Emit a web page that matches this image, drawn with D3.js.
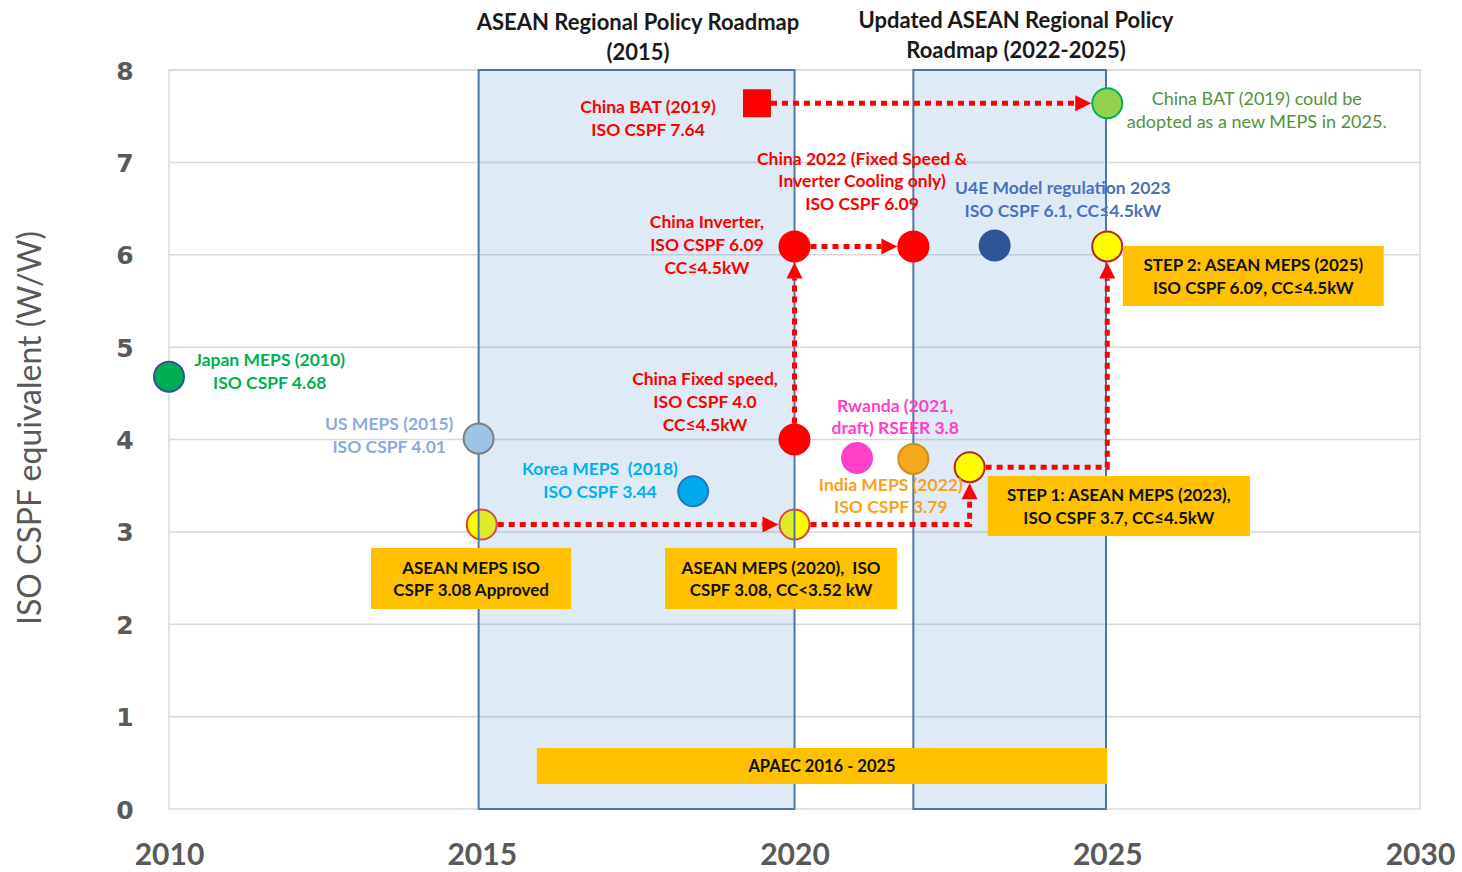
<!DOCTYPE html>
<html>
<head>
<meta charset="utf-8">
<script src="https://cdn.jsdelivr.net/npm/d3@7/dist/d3.min.js"></script>
<style>
  html, body { margin: 0; padding: 0; background: #ffffff; }
  svg { display: block; }
  text { font-family: Lato, "Open Sans", sans-serif; white-space: pre; }
</style>
</head>
<body>
<svg id="chart" width="1462" height="872"></svg>
<script>
// ---- Data -------------------------------------------------------------
// Policy milestones (year, ISO CSPF in W/W)
const pointNames  = ["Japan MEPS", "US MEPS", "Korea MEPS", "China Fixed speed", "China Inverter",
                     "China 2022", "U4E Model", "China BAT", "China BAT 2025", "Rwanda", "India MEPS",
                     "ASEAN 2015", "ASEAN 2020", "ASEAN Step 1", "ASEAN Step 2"];
const pointYears  = [2010, 2014.95, 2018.38, 2020, 2020, 2021.9, 2023.2, 2019.4, 2025, 2021, 2021.9,
                     2015, 2020, 2022.8, 2025];
const pointValues = [4.68, 4.01, 3.44, 4.0, 6.09, 6.09, 6.1, 7.64, 7.64, 3.8, 3.79,
                     3.08, 3.08, 3.7, 6.09];

// Roadmap periods (start year, end year)
const roadmapNames  = ["ASEAN Regional Policy Roadmap (2015)", "Updated ASEAN Regional Policy Roadmap (2022-2025)"];
const roadmapStarts = [2014.95, 2021.9];
const roadmapEnds   = [2020, 2024.98];

// APAEC period
const apaecLabel = "APAEC 2016 - 2025";
const apaecStart = 2015.88, apaecEnd = 2025;

// Progression links between milestones (by name)
const linkPaths = [
  ["ASEAN 2015", "ASEAN 2020"],
  ["ASEAN 2020", "corner:2022.8,3.08", "ASEAN Step 1"],
  ["ASEAN Step 1", "corner:2025,3.7", "ASEAN Step 2"],
  ["China Fixed speed", "China Inverter"],
  ["China Inverter", "China 2022"],
  ["China BAT", "China BAT 2025"]
];

// Axis ticks
const xTickLabels = ["2010", "2015", "2020", "2025", "2030"];
const yTickLabels = ["0", "1", "2", "3", "4", "5", "6", "7", "8"];
const yAxisTitle = "ISO CSPF equivalent (W/W)";

// ---- Styles -----------------------------------------------------------
const pointStyle = {
  "Japan MEPS":        { fill: "#00b050", stroke: "#2f5597", shape: "circle" },
  "US MEPS":           { fill: "#9dc3e6", stroke: "#7f7f7f", shape: "circle" },
  "Korea MEPS":        { fill: "#00a8ec", stroke: "#2e75b6", shape: "circle" },
  "China Fixed speed": { fill: "#ff0000", stroke: "#ff0000", shape: "circle" },
  "China Inverter":    { fill: "#ff0000", stroke: "#ff0000", shape: "circle" },
  "China 2022":        { fill: "#ff0000", stroke: "#ff0000", shape: "circle" },
  "U4E Model":         { fill: "#2f5597", stroke: "#2f5597", shape: "circle" },
  "China BAT":         { fill: "#ff0000", stroke: "#ff0000", shape: "square" },
  "China BAT 2025":    { fill: "#92d050", stroke: "#00b050", shape: "circle" },
  "Rwanda":            { fill: "#ff40c8", stroke: "#ff40c8", shape: "circle" },
  "India MEPS":        { fill: "#f5a81c", stroke: "#c99020", shape: "circle" },
  "ASEAN 2015":        { fill: "#ffff00", stroke: "#ee3a2a", shape: "circle", under: true },
  "ASEAN 2020":        { fill: "#ffff00", stroke: "#ee3a2a", shape: "circle", under: true },
  "ASEAN Step 1":      { fill: "#ffff00", stroke: "#c0201a", shape: "circle" },
  "ASEAN Step 2":      { fill: "#ffff00", stroke: "#c0201a", shape: "circle" }
};

// Text annotations: anchor = centre of first line in data coordinates
const notes = [
  { lines: ["Japan MEPS (2010)", "ISO CSPF 4.68"], x: 2011.61, y: 4.861, color: "#00b050", weight: 700, size: 17.5 },
  { lines: ["US MEPS (2015)", "ISO CSPF 4.01"], x: 2013.52, y: 4.168, color: "#8eaadb", weight: 700, size: 17.5 },
  { lines: ["Korea MEPS  (2018)", "ISO CSPF 3.44"], x: 2016.89, y: 3.681, color: "#00b0f0", weight: 700, size: 17.5 },
  { lines: ["China Fixed speed,", "ISO CSPF 4.0", "CC≤4.5kW"], x: 2018.57, y: 4.655, color: "#ff0000", weight: 700, size: 17.5 },
  { lines: ["China Inverter,", "ISO CSPF 6.09", "CC≤4.5kW"], x: 2018.60, y: 6.355, color: "#ff0000", weight: 700, size: 17.5 },
  { lines: ["China 2022 (Fixed Speed &", "Inverter Cooling only)", "ISO CSPF 6.09"], x: 2021.08, y: 7.047, color: "#ff0000", weight: 700, size: 17.5 },
  { lines: ["China BAT (2019)", "ISO CSPF 7.64"], x: 2017.66, y: 7.600, color: "#ff0000", weight: 700, size: 17.5 },
  { lines: ["China BAT (2019) could be", "adopted as a new MEPS in 2025."], x: 2027.39, y: 7.697, color: "#56903f", weight: 400, size: 18 },
  { lines: ["U4E Model regulation 2023", "ISO CSPF 6.1, CC≤4.5kW"], x: 2024.29, y: 6.723, color: "#4a72b8", weight: 700, size: 17.5 },
  { lines: ["Rwanda (2021,", "draft) RSEER 3.8"], x: 2021.61, y: 4.373, color: "#ff40c8", weight: 700, size: 17.5 },
  { lines: ["India MEPS (2022)", "ISO CSPF 3.79"], x: 2021.54, y: 3.518, color: "#f7a21b", weight: 700, size: 17.5 }
];

// Highlighted ASEAN boxes: [x0, x1] years, [y0, y1] values
const calloutBoxes = [
  { lines: ["ASEAN MEPS ISO", "CSPF 3.08 Approved"], x0: 2013.23, x1: 2016.43, y0: 2.826, y1: 2.165 },
  { lines: ["ASEAN MEPS (2020),  ISO", "CSPF 3.08, CC<3.52 kW"], x0: 2017.93, x1: 2021.64, y0: 2.826, y1: 2.165 },
  { lines: ["STEP 1: ASEAN MEPS (2023),", "ISO CSPF 3.7, CC≤4.5kW"], x0: 2023.09, x1: 2027.28, y0: 3.605, y1: 2.955 },
  { lines: ["STEP 2: ASEAN MEPS (2025)", "ISO CSPF 6.09, CC≤4.5kW"], x0: 2025.25, x1: 2029.42, y0: 6.095, y1: 5.445 }
];

// ---- Layout -----------------------------------------------------------
const svg = d3.select("#chart");
const plot = { left: 169, right: 1420, top: 70, bottom: 809 };

const x = d3.scaleLinear().domain([2010, 2030]).range([plot.left, plot.right]);
const y = d3.scaleLinear().domain([0, 8]).range([plot.bottom, plot.top]);

const RADIUS = 15;
const SQUARE = 28;
const LINE_GAP = 22.8;
const red = "#ff0000";

// Gridlines and plot frame
svg.append("g").selectAll("line")
  .data(yTickLabels.map(Number).filter(v => v > 0))
  .join("line")
  .attr("x1", plot.left).attr("x2", plot.right)
  .attr("y1", d => y(d)).attr("y2", d => y(d))
  .attr("stroke", "#d9d9d9").attr("stroke-width", 1.5);
svg.append("rect")
  .attr("x", plot.left).attr("y", plot.top)
  .attr("width", plot.right - plot.left).attr("height", plot.bottom - plot.top)
  .attr("fill", "none").attr("stroke", "#d9d9d9").attr("stroke-width", 1.5);

// Axes
const yAxis = d3.axisLeft(y).tickValues(yTickLabels.map(Number)).tickFormat((d, i) => yTickLabels[i]).tickSize(0).tickPadding(0);
svg.append("g")
  .attr("transform", `translate(${125},0)`)
  .call(yAxis)
  .call(g => g.select(".domain").remove())
  .selectAll("text")
  .attr("text-anchor", "middle")
  .attr("dy", "0.36em")
  .style("font-family", "'DejaVu Sans', sans-serif")
  .style("font-weight", 700)
  .style("font-size", "25px")
  .attr("fill", "#595959");

const xAxis = d3.axisBottom(x).tickValues(xTickLabels.map(Number)).tickFormat((d, i) => xTickLabels[i]).tickSize(0).tickPadding(0);
svg.append("g")
  .attr("transform", `translate(0,${854})`)
  .call(xAxis)
  .call(g => g.select(".domain").remove())
  .selectAll("text")
  .attr("dy", "0.36em")
  .style("font-family", "Lato, sans-serif")
  .style("font-weight", 700)
  .style("font-size", "30px")
  .attr("fill", "#595959");

svg.append("text")
  .attr("transform", `translate(${28},${428}) rotate(-90)`)
  .attr("text-anchor", "middle")
  .attr("dominant-baseline", "central")
  .style("font-size", "32px")
  .attr("fill", "#595959")
  .text(yAxisTitle);

// Point lookup
const points = pointNames.map((n, i) => ({ name: n, year: pointYears[i], value: pointValues[i], style: pointStyle[n] }));
const byName = Object.fromEntries(points.map(p => [p.name, p]));

function drawPoint(sel, p) {
  const s = p.style;
  if (s.shape === "square") {
    sel.append("rect")
      .attr("x", x(p.year) - SQUARE / 2).attr("y", y(p.value) - SQUARE / 2)
      .attr("width", SQUARE).attr("height", SQUARE)
      .attr("fill", s.fill);
  } else {
    sel.append("circle")
      .attr("cx", x(p.year)).attr("cy", y(p.value)).attr("r", RADIUS)
      .attr("fill", s.fill).attr("stroke", s.stroke).attr("stroke-width", 2);
  }
}

// Milestones that sit beneath the translucent roadmap boxes
const underLayer = svg.append("g");
points.filter(p => p.style.under).forEach(p => drawPoint(underLayer, p));

// Roadmap period boxes
svg.append("g").selectAll("rect")
  .data(roadmapNames.map((n, i) => ({ name: n, start: roadmapStarts[i], end: roadmapEnds[i] })))
  .join("rect")
  .attr("x", d => x(d.start)).attr("y", y(8))
  .attr("width", d => x(d.end) - x(d.start)).attr("height", y(0) - y(8))
  .attr("fill", "#5b9bd5").attr("fill-opacity", 0.2)
  .attr("stroke", "#4f77a3").attr("stroke-width", 2);

// Roadmap titles
const titleLines = [["ASEAN Regional Policy Roadmap", "(2015)"], ["Updated ASEAN Regional Policy", "Roadmap (2022-2025)"]];
const titleCentres = [638, 1016];
const titleTops = [21, 19];
titleLines.forEach((lines, i) => {
  const t = svg.append("text")
    .attr("text-anchor", "middle")
    .style("font-size", "22px").style("font-weight", 700)
    .attr("fill", "#1a1a1a");
  lines.forEach((l, j) => t.append("tspan")
    .attr("x", titleCentres[i]).attr("y", titleTops[i] + j * 30)
    .attr("dominant-baseline", "central").text(l));
});

// APAEC bar
svg.append("rect")
  .attr("x", x(apaecStart)).attr("y", y(0.66))
  .attr("width", x(apaecEnd) - x(apaecStart)).attr("height", y(0.271) - y(0.66))
  .attr("fill", "#ffc000");
svg.append("text")
  .attr("x", (x(apaecStart) + x(apaecEnd)) / 2).attr("y", (y(0.66) + y(0.271)) / 2)
  .attr("text-anchor", "middle").attr("dominant-baseline", "central")
  .style("font-size", "16.5px").style("font-weight", 700).attr("fill", "#111")
  .text(apaecLabel);

// Progression links: dotted red polylines ending in arrowheads
function resolve(ref) {
  if (ref.startsWith("corner:")) {
    const [yr, v] = ref.slice(7).split(",").map(Number);
    return { px: x(yr), py: y(v), trim: 0 };
  }
  const p = byName[ref];
  return { px: x(p.year), py: y(p.value), trim: p.style.shape === "square" ? SQUARE / 2 : RADIUS + 1 };
}
const ARROW_LEN = 16, ARROW_HALF = 8;
const linkLayer = svg.append("g");
linkPaths.forEach(path => {
  const pts = path.map(resolve);
  const coords = pts.map(p => [p.px, p.py]);
  // trim start
  const a0 = coords[0], a1 = coords[1];
  const d0 = Math.hypot(a1[0] - a0[0], a1[1] - a0[1]);
  coords[0] = [a0[0] + (a1[0] - a0[0]) / d0 * pts[0].trim, a0[1] + (a1[1] - a0[1]) / d0 * pts[0].trim];
  // trim end to the arrow tip
  const n = coords.length;
  const b0 = coords[n - 2], b1 = coords[n - 1];
  const d1 = Math.hypot(b1[0] - b0[0], b1[1] - b0[1]);
  const ux = (b1[0] - b0[0]) / d1, uy = (b1[1] - b0[1]) / d1;
  const tip = [b1[0] - ux * pts[n - 1].trim, b1[1] - uy * pts[n - 1].trim];
  const base = [tip[0] - ux * ARROW_LEN, tip[1] - uy * ARROW_LEN];
  coords[n - 1] = base;
  linkLayer.append("path")
    .attr("d", d3.line()(coords))
    .attr("fill", "none").attr("stroke", red).attr("stroke-width", 5)
    .attr("stroke-dasharray", "6,5");
  const nx = -uy, ny = ux;
  linkLayer.append("path")
    .attr("d", d3.line()([tip, [base[0] + nx * ARROW_HALF, base[1] + ny * ARROW_HALF], [base[0] - nx * ARROW_HALF, base[1] - ny * ARROW_HALF]]) + "Z")
    .attr("fill", red);
});

// Remaining milestones
const markLayer = svg.append("g");
points.filter(p => !p.style.under).forEach(p => drawPoint(markLayer, p));

// Annotations
notes.forEach(nt => {
  const t = svg.append("text")
    .attr("text-anchor", "middle")
    .style("font-size", nt.size + "px").style("font-weight", nt.weight)
    .attr("fill", nt.color);
  nt.lines.forEach((l, j) => t.append("tspan")
    .attr("x", x(nt.x)).attr("y", y(nt.y) + j * LINE_GAP)
    .attr("dominant-baseline", "central").text(l));
});

// Callout boxes for the ASEAN MEPS steps
calloutBoxes.forEach(b => {
  svg.append("rect")
    .attr("x", x(b.x0)).attr("y", y(b.y0))
    .attr("width", x(b.x1) - x(b.x0)).attr("height", y(b.y1) - y(b.y0))
    .attr("fill", "#ffc000");
  const cx = (x(b.x0) + x(b.x1)) / 2, cy = (y(b.y0) + y(b.y1)) / 2;
  const t = svg.append("text")
    .attr("text-anchor", "middle")
    .style("font-size", "17px").style("font-weight", 700).attr("fill", "#111");
  b.lines.forEach((l, j) => t.append("tspan")
    .attr("x", cx).attr("y", cy + (j - (b.lines.length - 1) / 2) * LINE_GAP)
    .attr("dominant-baseline", "central").text(l));
});
</script>
</body>
</html>
